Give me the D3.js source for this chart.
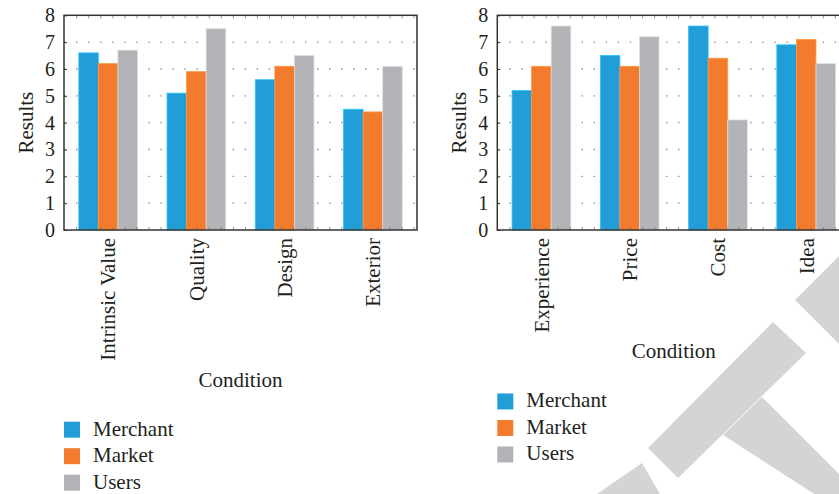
<!DOCTYPE html>
<html>
<head>
<meta charset="utf-8">
<script src="https://cdn.jsdelivr.net/npm/d3@7"></script>
<style>
  body { margin: 0; background: #fff; }
  text { font-family: "Liberation Serif", "DejaVu Serif", serif; fill: #231f20; }
</style>
</head>
<body>
<div id="chart"></div>
<script>
// data
const seriesNames = ["Merchant", "Market", "Users"];
const seriesColors = ["#219ed8", "#f37b2d", "#b2b3b6"];
const yTicks = [0, 1, 2, 3, 4, 5, 6, 7, 8];

const categoriesA = ["Intrinsic Value", "Quality", "Design", "Exterior"];
const merchantA = [6.6, 5.1, 5.6, 4.5];
const marketA = [6.2, 5.9, 6.1, 4.4];
const usersA = [6.7, 7.5, 6.5, 6.1];

const categoriesB = ["Experience", "Price", "Cost", "Idea"];
const merchantB = [5.2, 6.5, 7.6, 6.9];
const marketB = [6.1, 6.1, 6.4, 7.1];
const usersB = [7.6, 7.2, 4.1, 6.2];

const svg = d3.select("#chart")
    .append("svg")
        .attr("width", 839)
        .attr("height", 494)

// watermark shapes behind everything
const wm = svg.append("g").attr("fill", "#d4d4d4")
wm.append("polygon").attr("points", "795,300 839,256 839,344")
wm.append("polygon").attr("points", "773,322 806,353 678,478 648,448")
wm.append("polygon").attr("points", "762,397 839,474 839,510 723,435")
wm.append("polygon").attr("points", "597,494 642,463 660,494")

const plotW = 353, plotTop = 15.3, plotBottom = 230;

function drawPanel(x0, categories, values) {
    const g = svg.append("g").attr("transform", `translate(${x0},0)`)

    const x = d3.scaleBand()
        .domain(categories)
        .range([0, plotW])
        .paddingInner(0.335)
        .paddingOuter(0.1675);

    const xs = d3.scaleBand()
        .domain(seriesNames)
        .range([0, x.bandwidth()]);

    const y = d3.scaleLinear()
        .domain([0, 8])
        .range([plotBottom, plotTop]);

    // dotted grid
    g.selectAll(".grid")
        .data(yTicks.filter(d => d > 0 && d < 8))
        .join("line")
            .attr("x1", 0)
            .attr("x2", plotW)
            .attr("y1", d => y(d))
            .attr("y2", d => y(d))
            .attr("stroke", "#8a8a8a")
            .attr("stroke-width", 1.3)
            .attr("stroke-dasharray", "1.4 10.65")
            .attr("stroke-dashoffset", -12)

    // bars
    const groups = g.selectAll(".grp")
        .data(categories)
        .join("g")
            .attr("transform", d => `translate(${x(d)},0)`)

    groups.selectAll("rect")
        .data((d, i) => seriesNames.map((s, j) => ({s: s, v: values[j][i], c: seriesColors[j]})))
        .join("rect")
            .attr("x", d => xs(d.s))
            .attr("y", d => y(d.v))
            .attr("width", xs.bandwidth())
            .attr("height", d => y(0) - y(d.v))
            .attr("fill", d => d.c)
            .attr("stroke", d => d3.color(d.c).brighter(0.6))
            .attr("stroke-width", 0.8)

    // minor ticks on top and bottom
    const minor = d3.range(12.7, plotW, 12.05)
    g.selectAll(".mb")
        .data(minor)
        .join("line")
            .attr("x1", d => d).attr("x2", d => d)
            .attr("y1", plotBottom).attr("y2", plotBottom - 3)
            .attr("stroke", "#777").attr("stroke-width", 0.8)
    g.selectAll(".mt")
        .data(minor)
        .join("line")
            .attr("x1", d => d).attr("x2", d => d)
            .attr("y1", plotTop).attr("y2", plotTop + 3)
            .attr("stroke", "#777").attr("stroke-width", 0.8)

    // frame
    g.append("rect")
        .attr("x", 0)
        .attr("y", plotTop)
        .attr("width", plotW)
        .attr("height", plotBottom - plotTop)
        .attr("fill", "none")
        .attr("stroke", "#333")
        .attr("stroke-width", 1.5)

    // y axis
    const yAxis = g.append("g")
        .call(d3.axisLeft(y).tickValues(yTicks).tickSize(-3).tickPadding(9))
    yAxis.select(".domain").remove()
    yAxis.selectAll("line").attr("stroke", "#333")
    yAxis.selectAll("text")
        .style("font-size", "20px")
        .style("font-family", "Liberation Serif, serif")
        .attr("fill", "#231f20")

    g.append("text")
        .attr("transform", `translate(-31,${(plotTop + plotBottom) / 2}) rotate(-90)`)
        .attr("text-anchor", "middle")
        .style("font-size", "21px")
        .text("Results")

    // category labels
    const labels = g.selectAll(".cat")
        .data(categories)
        .join("text")
            .attr("transform", d => `translate(${x(d) + x.bandwidth() / 2},${plotBottom + 8}) rotate(-90)`)
            .attr("dy", "0.35em")
            .attr("text-anchor", "end")
            .style("font-size", "21px")
            .text(d => d)

    let maxLen = 0
    labels.each(function() { maxLen = Math.max(maxLen, this.getComputedTextLength()) })
    const titleY = plotBottom + 8 + maxLen + 26

    g.append("text")
        .attr("x", plotW / 2)
        .attr("y", titleY)
        .attr("text-anchor", "middle")
        .style("font-size", "21px")
        .text("Condition")

    // legend
    const legend = g.selectAll(".leg")
        .data(seriesNames)
        .join("g")
            .attr("transform", (d, i) => `translate(0,${titleY + 35 + i * 26.5})`)
    legend.append("rect")
        .attr("width", 16)
        .attr("height", 16)
        .attr("fill", (d, i) => seriesColors[i])
    legend.append("text")
        .attr("x", 29)
        .attr("y", 14)
        .style("font-size", "21px")
        .text(d => d)
}

drawPanel(64, categoriesA, [merchantA, marketA, usersA])
drawPanel(497.3, categoriesB, [merchantB, marketB, usersB])
</script>
</body>
</html>
